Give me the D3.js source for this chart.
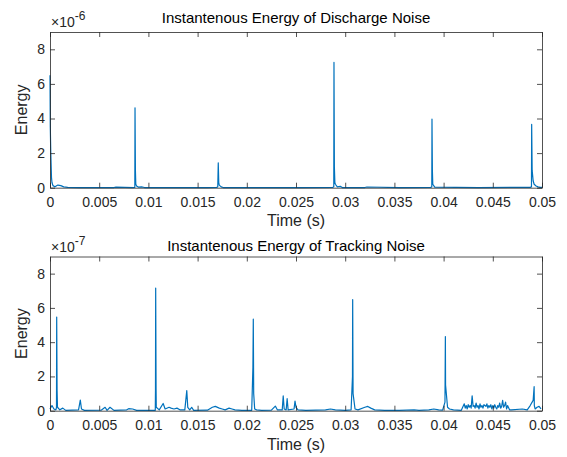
<!DOCTYPE html>
<html><head><meta charset="utf-8">
<script src="https://cdn.jsdelivr.net/npm/d3@7"></script>
<style>body{margin:0;background:#fff}svg{display:block}</style>
</head><body>
<svg id="c" width="567" height="457"></svg>
<script>
// ---- data ----
const xTicks = [0,0.005,0.01,0.015,0.02,0.025,0.03,0.035,0.04,0.045,0.05];
const xTickLabels = ["0","0.005","0.01","0.015","0.02","0.025","0.03","0.035","0.04","0.045","0.05"];
const yTicks = [0,2,4,6,8];
const titles = ["Instantenous Energy of Discharge Noise","Instantenous Energy of Tracking Noise"];
const exponents = ["-6","-7"];

// Discharge energy (x 1e-6)
const dischargeTime = [0,0.00003,0.00008,0.00015,0.0002,0.0003,0.0005,0.0008,0.0011,0.0014,0.0018,0.003,0.0065,0.0067,0.0085,0.00862,0.00864,0.00868,0.00872,0.0088,0.009,0.0093,0.0096,0.012,0.016,0.01695,0.01705,0.0171,0.01715,0.0172,0.0174,0.0176,0.022,0.0255,0.02875,0.02884,0.02886,0.0289,0.02895,0.029,0.0292,0.0295,0.0297,0.032,0.0322,0.0355,0.0387,0.0388,0.03882,0.03886,0.0389,0.0391,0.0435,0.0488,0.04893,0.04895,0.049,0.0491,0.0492,0.0494,0.0496,0.0498,0.05];
const dischargeEnergy = [6.5,3.5,2.0,0.6,0.3,0.12,0.05,0.15,0.12,0.05,0.02,0.01,0.01,0.03,0.01,0.02,4.62,1.0,0.2,0.1,0.03,0.05,0.01,0.01,0.01,0.02,0.05,1.44,0.3,0.15,0.05,0.01,0.01,0.01,0.02,0.05,7.24,1.2,0.3,0.2,0.05,0.08,0.01,0.01,0.04,0.01,0.02,0.05,3.96,1.0,0.2,0.03,0.01,0.02,0.05,3.66,1.0,0.4,0.2,0.1,0.05,0.02,0.02];

// Tracking energy (x 1e-7)
const trackingTime = [0,0.0002,0.0004,0.0006,0.00066,0.00068,0.00072,0.00076,0.001,0.0013,0.0016,0.0029,0.00308,0.0032,0.0035,0.0052,0.0056,0.0058,0.0061,0.0065,0.0078,0.008,0.0084,0.0088,0.0096,0.0107,0.01072,0.01074,0.01078,0.0108,0.0111,0.0115,0.0117,0.0121,0.0123,0.0126,0.0129,0.0132,0.0137,0.0139,0.014,0.0142,0.0144,0.0146,0.016,0.0165,0.0168,0.0172,0.0175,0.0178,0.0182,0.0185,0.0188,0.0195,0.0205,0.02062,0.02066,0.0207,0.0208,0.021,0.0215,0.0225,0.0229,0.0231,0.0236,0.0237,0.0238,0.024,0.0241,0.0242,0.0248,0.0249,0.025,0.0252,0.026,0.028,0.0285,0.029,0.03,0.0306,0.03074,0.03076,0.0308,0.031,0.0313,0.032,0.0323,0.0326,0.033,0.034,0.0355,0.037,0.0375,0.0385,0.039,0.0395,0.0399,0.04014,0.04018,0.0402,0.0404,0.0406,0.041,0.0418,0.0421,0.0422,0.0423,0.0424,0.0425,0.0426,0.0427,0.0428,0.0429,0.043,0.0431,0.0432,0.0433,0.0434,0.0435,0.0436,0.0437,0.0438,0.0439,0.044,0.0441,0.0442,0.0443,0.0444,0.0445,0.0446,0.0447,0.0448,0.0449,0.045,0.0451,0.0452,0.0453,0.0454,0.0455,0.0456,0.0457,0.0458,0.0459,0.046,0.0461,0.0462,0.0463,0.0464,0.0465,0.0467,0.0469,0.048,0.0485,0.0488,0.0491,0.0492,0.04922,0.0493,0.0495,0.0497,0.0499,0.05];
const trackingEnergy = [0.1,0.3,0.1,0.05,0.2,5.47,1.2,0.2,0.05,0.15,0.02,0.05,0.62,0.1,0.02,0.03,0.2,0.02,0.2,0.02,0.05,0.12,0.1,0.02,0.02,0.02,1.2,7.16,1.3,0.2,0.05,0.42,0.1,0.2,0.15,0.1,0.15,0.05,0.05,1.17,0.2,0.05,0.2,0.02,0.03,0.2,0.25,0.15,0.1,0.05,0.15,0.1,0.05,0.02,0.02,2.5,5.34,1.0,0.1,0.05,0.02,0.03,0.27,0.05,0.05,0.86,0.1,0.05,0.7,0.05,0.1,0.56,0.2,0.05,0.02,0.05,0.1,0.05,0.02,0.05,2.0,6.49,1.0,0.1,0.05,0.2,0.25,0.15,0.05,0.02,0.02,0.05,0.02,0.05,0.1,0.05,0.03,0.5,4.33,1.5,0.2,0.1,0.05,0.02,0.4,0.15,0.3,0.1,0.35,0.2,0.3,0.15,0.87,0.25,0.3,0.15,0.45,0.2,0.3,0.1,0.4,0.2,0.3,0.15,0.35,0.3,0.25,0.4,0.15,0.3,0.2,0.35,0.1,0.3,0.15,0.35,0.2,0.1,0.3,0.2,0.45,0.15,0.25,0.6,0.2,0.3,0.5,0.1,0.3,0.05,0.05,0.1,0.05,0.3,0.6,1.40,0.3,0.1,0.2,0.25,0.1];

// ---- drawing ----
const svg = d3.select("#c");
const font = "'Liberation Sans', Arial, Helvetica, sans-serif";
const textCol = "#262626";
const panels = [
  {top:32, bottom:187.7, t:dischargeTime, v:dischargeEnergy, titleY:23, xlabY:226},
  {top:256.5, bottom:410.7, t:trackingTime, v:trackingEnergy, titleY:251, xlabY:450}
];
const left = 50, right = 542;
const x = d3.scaleLinear().domain([0,0.05]).range([left,right]);

panels.forEach((p,i)=>{
  const y = d3.scaleLinear().domain([0,9]).range([p.bottom,p.top]);
  const g = svg.append("g");
  const data = p.t.map((t,k)=>[t,p.v[k]]);
  g.append("path").datum(data)
    .attr("d", d3.line().x(d=>x(d[0])).y(d=>y(d[1])))
    .attr("fill","none").attr("stroke","#0072BD").attr("stroke-width",1.2)
    .attr("stroke-linejoin","round");

  // axes
  const ax = d3.axisBottom(x).tickValues(xTicks).tickFormat((d,k)=>xTickLabels[k]).tickSizeInner(-5).tickSizeOuter(0).tickPadding(9);
  const axG = g.append("g").attr("transform",`translate(0,${p.bottom})`).call(ax);
  const axT = g.append("g").attr("transform",`translate(0,${p.top})`).call(d3.axisTop(x).tickValues(xTicks).tickFormat("").tickSizeInner(-5).tickSizeOuter(0));
  const ay = d3.axisLeft(y).tickValues(yTicks).tickSizeInner(-5).tickSizeOuter(0).tickPadding(5);
  const ayG = g.append("g").attr("transform",`translate(${left},0)`).call(ay);
  const ayR = g.append("g").attr("transform",`translate(${right},0)`).call(d3.axisRight(y).tickValues(yTicks).tickFormat("").tickSizeInner(-5).tickSizeOuter(0));
  [axG,axT,ayG,ayR].forEach(a=>{
    a.select(".domain").attr("stroke","#262626").attr("stroke-width",0.8);
    a.selectAll(".tick line").attr("stroke","#262626").attr("stroke-width",0.8);
    a.selectAll("text").attr("fill",textCol).attr("font-family",font).attr("font-size",14);
  });

  g.append("text").attr("x",(left+right)/2).attr("y",p.titleY).attr("text-anchor","middle")
    .attr("font-family",font).attr("font-size",15).attr("fill","#000").text(titles[i]);
  g.append("text").attr("x",(left+right)/2).attr("y",p.xlabY).attr("text-anchor","middle")
    .attr("font-family",font).attr("font-size",16).attr("fill",textCol).text("Time (s)");
  g.append("text").attr("transform",`translate(27,${(p.top+p.bottom)/2}) rotate(-90)`).attr("text-anchor","middle")
    .attr("font-family",font).attr("font-size",16).attr("fill",textCol).text("Energy");
  const ex = g.append("text").attr("x",left+1).attr("y",p.top-5)
    .attr("font-family",font).attr("font-size",14).attr("fill",textCol);
  ex.append("tspan").text("\u00d710");
  ex.append("tspan").attr("dy",-7).attr("font-size",12).text(exponents[i]);
});
</script>
</body></html>
